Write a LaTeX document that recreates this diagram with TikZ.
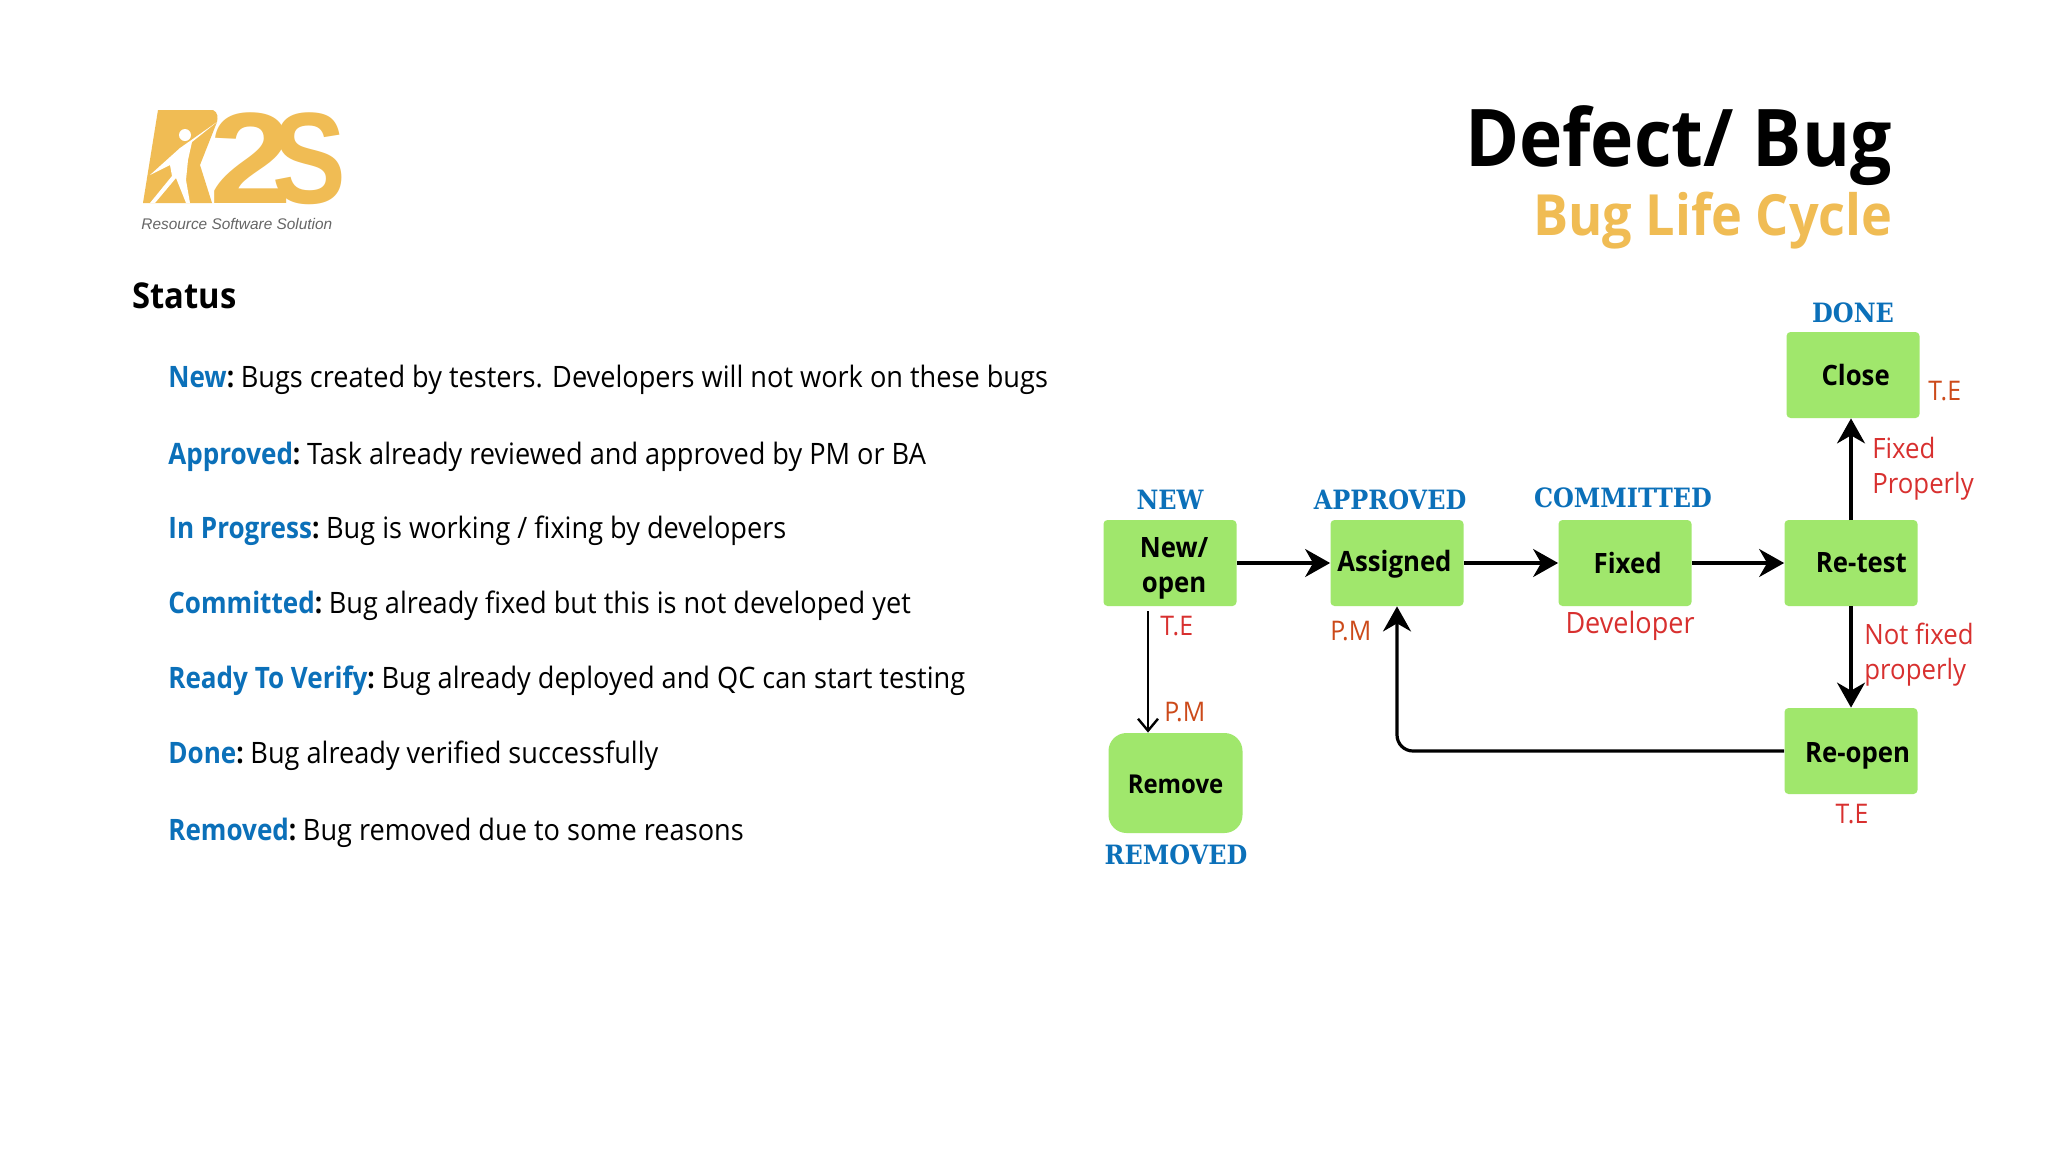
\documentclass[tikz,border=0pt]{standalone}
\usepackage{fontspec}
\setmainfont{Open Sans}[FakeStretch=0.92]
\newfontfamily\logofont{Liberation Sans}
\newfontfamily\capfont{DejaVu Serif}[FakeStretch=0.9]
\usetikzlibrary{arrows.meta}
\definecolor{gold}{HTML}{F0BC54}
\definecolor{bluet}{HTML}{0B70B9}
\definecolor{boxg}{HTML}{A0E76C}
\definecolor{redt}{HTML}{D8302F}
\definecolor{orat}{HTML}{CC4A1A}
\tikzset{
  st/.style={fill=boxg,rounded corners=2pt,minimum width=66.5pt,minimum height=43pt,inner sep=0pt,align=center,font=\fontsize{14}{17.6}\selectfont\bfseries},
  captxt/.style={text=bluet,inner sep=0pt,font=\capfont\fontsize{13.3}{16}\selectfont\bfseries},
  rl/.style={text=redt,inner sep=0pt,align=left,font=\fontsize{14}{18}\selectfont},
  ol/.style={text=orat,inner sep=0pt,font=\fontsize{13.5}{18}\selectfont},
  body/.style={anchor=base west,inner sep=0pt,font=\fontsize{14.75}{18}\selectfont},
  flow/.style={line width=1.6pt,-{Stealth[length=12.5pt,width=14pt,inset=4pt]}}
}
\newcommand{\hl}[1]{\scalebox{0.96}[1]{\textcolor{bluet}{\textbf{#1}}\textbf{:}}\hspace{-0.2pt}}
\begin{document}
\begin{tikzpicture}[x=0.5pt,y=-0.5pt]
\useasboundingbox (0,0) rectangle (2048,1152);
\fill[white] (0,0) rectangle (2048,1152);
% logo
\fill[gold] (158,110) -- (213,110) .. controls (218,112) and (218,118) .. (217,122) -- (200,165) -- (212,203) -- (143,203) -- cycle;
\fill[white] (217,122) -- (192,142) -- (188,160) -- (186,180) -- (190,203) -- (186,203) -- (176,178) -- (155,203) -- (150,203) -- (172,176) -- (170,165) -- (150,175) -- (180,148) -- cycle;
\fill[white] (185,135) circle[radius=6];
\node[font=\logofont\fontsize{65}{65}\selectfont\bfseries,text=gold,inner sep=0pt,anchor=base west] (logotxt) at (209,203) {\scalebox{1.15}[1]{2}};
\node[font=\logofont\fontsize{65}{65}\selectfont\bfseries,text=gold,inner sep=0pt,anchor=base west] (logotxs) at (272,203) {\scalebox{0.85}[1]{S}};
\node[font=\logofont\itshape\fontsize{7.7}{10}\selectfont,text=black!60,inner sep=0pt,anchor=base west] (logosub) at (141,229) {Resource Software Solution};
% titles
\node[anchor=base east,inner sep=0pt,font=\fontsize{39.8}{40}\selectfont\bfseries] (title) at (1892,166) {Defect/ Bug};
\node[anchor=base east,inner sep=0pt,text=gold,font=\fontsize{28.4}{28}\selectfont\bfseries] (subt) at (1893,235) {Bug Life Cycle};
\node[anchor=base west,inner sep=0pt,font=\fontsize{17.8}{18}\selectfont\bfseries] (status) at (132,308) {Status};
% body
\node[body] (b1) at (168,387) {\hl{New} Bugs created by testers. Developers will not work on these bugs};
\node[body] (b2) at (168,464) {\hl{Approved} Task already reviewed and approved by PM or BA};
\node[body] (b3) at (168,538) {\hl{In Progress} Bug is working / fixing by developers};
\node[body] (b4) at (168,613) {\hl{Committed} Bug already fixed but this is not developed yet};
\node[body] (b5) at (168,688) {\hl{Ready To Verify} Bug already deployed and QC can start testing};
\node[body] (b6) at (168,763) {\hl{Done} Bug already verified successfully};
\node[body] (b7) at (168,840) {\hl{Removed} Bug removed due to some reasons};
% states
\node[st] (new) at (1170,563) {\rule{0pt}{15pt}\hspace*{4pt}New/\\\hspace*{4pt}open};
\node[st] (asg) at (1397,563) {\rule{0pt}{12pt}\hspace*{-2.6pt}Assigned};
\node[st] (fix) at (1625,563) {\hspace*{2.6pt}Fixed};
\node[st] (ret) at (1851,563) {\hspace*{10.4pt}Re-test};
\node[st] (clo) at (1853,375) {\hspace*{2.6pt}Close};
\node[st] (reo) at (1851,751) {\rule{0pt}{14.5pt}\hspace*{6.5pt}Re-open};
\node[st,rounded corners=9pt,minimum width=67pt,minimum height=50pt] (rem) at (1175.5,783) {\fontsize{13}{16}\selectfont\rule{0pt}{11pt}Remove};
% captions
\node[captxt] (c1) at (1170,500) {NEW};
\node[captxt] (c2) at (1390,500) {APPROVED};
\node[captxt] (c3) at (1623,498) {COMMITTED};
\node[captxt] (c4) at (1853,313) {DONE};
\node[captxt] (c5) at (1176,855) {REMOVED};
% arrows
\draw[flow] (new.east) -- (asg.west);
\draw[flow] (asg.east) -- (fix.west);
\draw[flow] (fix.east) -- (ret.west);
\coordinate (ru) at (1851,520);
\draw[flow] (ru) -- (ru |- clo.south);
\draw[flow] (ret.south) -- (reo.north);
\draw[flow,rounded corners=8pt] (reo.west) -| (asg.south);
\coordinate (rs) at (1148,611);
\draw[line width=1.2pt,-{Straight Barb[length=6pt,width=10pt]}] (rs) -- (rs |- rem.north);
% labels
\node[ol,anchor=west] (l1) at (1928,391) {T.E};
\node[rl,anchor=west] (l2) at (1872,448) {Fixed};
\node[rl,anchor=west] (l3) at (1872,486) {Properly};
\node[rl,anchor=west,font=\fontsize{13.5}{18}\selectfont] (l4) at (1160,626) {T.E};
\node[ol,anchor=west] (l5) at (1330,631) {P.M};
\node[rl,anchor=center,font=\fontsize{14.7}{18}\selectfont] (l6) at (1630,626) {Developer};
\node[rl,anchor=west] (l7) at (1864,634) {Not fixed};
\node[rl,anchor=west] (l8) at (1864,672) {properly};
\node[ol,anchor=west] (l9) at (1164,712) {P.M};
\node[rl,anchor=center,font=\fontsize{13.5}{18}\selectfont] (l10) at (1852,814) {T.E};
\end{tikzpicture}
\end{document}
